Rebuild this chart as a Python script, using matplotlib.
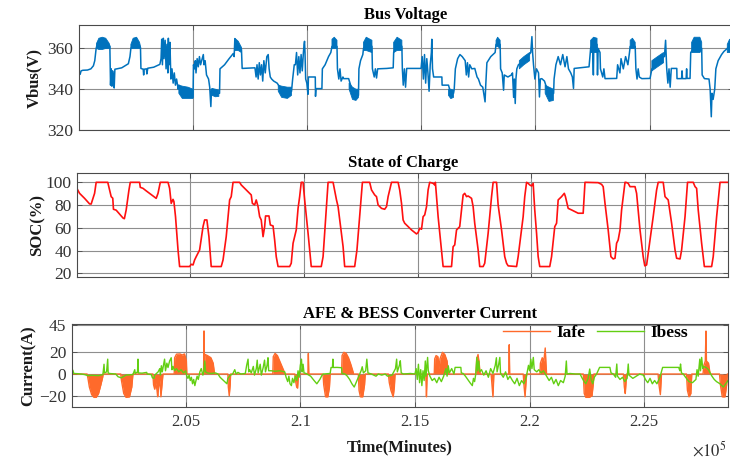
import numpy as np
import matplotlib
matplotlib.use("Agg")
import matplotlib.pyplot as plt
from matplotlib.ticker import FixedLocator, FuncFormatter

# ---------------------------------------------------------------------------
# Data (time in thousands of minutes)
# ---------------------------------------------------------------------------
vbus_pts = [
    (200.04, 348.5), (200.08, 347.3), (200.12, 349.0), (200.20, 349.3), (200.40, 349.4),
    (200.55, 350.0), (200.66, 351.5), (200.72, 354.0), (200.78, 360.0), (200.85, 363.0),
    (201.00, 364.0), (201.20, 363.5), (201.38, 361.0), (201.41, 342.0), (201.44, 350.0),
    (201.47, 341.5), (201.50, 349.0), (201.54, 346.0), (201.57, 340.6), (201.60, 349.8),
    (201.90, 350.5), (202.19, 352.5), (202.26, 356.0), (202.30, 360.0), (202.50, 364.0),
    (202.72, 360.5), (202.74, 350.2), (202.84, 349.8), (202.86, 347.0), (202.88, 349.8),
    (202.98, 350.0), (203.00, 347.5), (203.04, 350.3), (203.30, 350.8), (203.57, 352.2),
    (203.62, 355.0), (203.65, 364.5), (203.68, 352.0), (203.72, 365.0), (203.75, 355.0),
    (203.80, 364.0), (203.84, 350.0), (203.88, 362.0), (203.92, 348.0), (203.94, 365.0),
    (203.97, 352.0), (204.01, 363.0), (204.05, 345.0), (204.10, 350.0), (204.15, 343.0),
    (204.20, 348.0), (204.25, 342.0), (204.30, 345.0), (204.37, 340.0), (204.40, 342.0),
    (204.60, 338.0), (204.90, 338.0), (205.02, 336.0), (205.04, 352.0), (205.08, 350.0),
    (205.12, 354.0), (205.15, 348.0), (205.20, 355.0), (205.25, 351.0), (205.30, 356.0),
    (205.35, 352.0), (205.42, 355.0), (205.47, 357.0), (205.50, 352.0), (205.55, 354.0),
    (205.61, 347.0), (205.70, 345.0), (205.75, 341.0), (205.80, 331.5), (205.83, 340.0),
    (206.00, 338.0), (206.18, 338.0), (206.20, 350.0), (206.40, 352.0), (206.60, 355.0),
    (206.78, 357.5), (206.82, 356.0), (206.85, 364.8), (206.95, 362.0), (207.05, 361.0),
    (207.14, 359.5), (207.17, 350.2), (207.73, 350.5), (207.78, 346.0), (207.82, 352.0),
    (207.87, 345.0), (207.92, 353.0), (207.97, 347.0), (208.02, 352.0), (208.07, 344.0),
    (208.12, 354.0), (208.18, 348.0), (208.25, 356.0), (208.31, 357.0), (208.35, 350.0),
    (208.40, 346.0), (208.46, 345.0), (208.55, 344.0), (208.70, 343.0), (209.00, 338.0),
    (209.33, 339.0), (209.38, 345.0), (209.45, 352.0), (209.50, 352.0), (209.55, 358.0),
    (209.60, 347.0), (209.65, 356.0), (209.70, 348.0), (209.75, 357.0), (209.80, 349.0),
    (209.85, 358.0), (209.88, 362.0), (209.90, 363.5), (209.92, 358.0), (209.95, 345.0),
    (210.00, 343.0), (210.05, 337.5), (210.07, 346.0), (210.37, 346.0), (210.38, 336.5),
    (210.40, 340.3), (210.66, 340.3), (210.68, 350.0), (210.80, 352.0), (210.95, 356.0),
    (211.05, 358.0), (211.10, 361.0), (211.32, 361.0), (211.34, 350.0), (211.40, 345.0),
    (211.45, 350.0), (211.50, 344.0), (211.58, 346.0), (211.61, 345.2), (211.83, 345.2),
    (212.05, 337.0), (212.26, 337.0), (212.28, 350.0), (212.35, 354.0), (212.45, 357.0),
    (212.48, 360.0), (212.65, 363.0), (212.85, 361.0), (212.87, 350.0), (212.95, 346.0),
    (213.00, 350.0), (213.05, 345.5), (213.10, 350.0), (213.50, 350.2), (213.78, 350.5),
    (213.80, 358.0), (214.00, 363.0), (214.16, 361.0), (214.18, 350.0), (214.22, 342.0),
    (214.27, 350.0), (214.32, 341.0), (214.37, 350.2), (215.00, 350.2), (215.05, 356.0),
    (215.10, 345.0), (215.15, 357.0), (215.20, 343.0), (215.25, 355.0), (215.30, 348.0),
    (215.35, 339.0), (215.40, 352.0), (215.45, 358.0), (215.47, 364.5), (215.50, 350.0),
    (215.55, 346.0), (215.91, 346.0), (215.92, 342.0), (216.20, 342.0), (216.30, 338.0),
    (216.42, 338.0), (216.45, 340.0), (216.50, 350.0), (216.60, 355.0), (216.70, 357.0),
    (216.80, 356.0), (216.93, 354.0), (216.98, 347.0), (217.03, 353.0), (217.08, 346.0),
    (217.13, 352.0), (217.22, 350.0), (217.35, 350.2), (217.45, 346.0), (217.51, 345.0),
    (217.60, 342.0), (217.70, 341.0), (217.80, 333.8), (217.83, 342.0), (217.88, 353.0),
    (218.05, 356.0), (218.24, 358.0), (218.28, 362.0), (218.46, 362.0), (218.48, 350.0),
    (218.55, 348.0), (218.61, 339.5), (218.64, 347.0), (218.80, 346.0), (218.95, 347.0),
    (219.00, 348.0), (219.05, 336.0), (219.08, 345.0), (219.12, 333.0), (219.15, 345.0),
    (219.19, 350.0), (219.26, 352.0), (219.50, 354.0), (219.77, 357.6), (219.80, 358.0),
    (219.85, 365.8), (219.88, 358.0), (219.92, 352.0), (219.98, 345.0), (220.05, 350.0),
    (220.14, 348.0), (220.18, 336.2), (220.22, 345.0), (220.28, 345.2), (220.40, 344.0),
    (220.60, 337.0), (220.80, 338.0), (220.82, 345.0), (220.90, 352.0), (221.00, 356.0),
    (221.10, 352.0), (221.20, 357.0), (221.30, 351.0), (221.38, 356.0), (221.45, 350.0),
    (221.55, 348.0), (221.62, 346.0), (221.67, 340.4), (221.70, 350.2), (222.35, 351.0),
    (222.42, 360.0), (222.50, 362.0), (222.54, 347.0), (222.56, 362.0), (222.70, 362.0),
    (222.72, 347.0), (222.75, 360.0), (222.83, 358.0), (222.85, 350.0), (222.95, 346.0),
    (223.00, 350.0), (223.05, 345.2), (223.56, 345.3), (223.60, 352.0), (223.70, 348.0),
    (223.75, 355.0), (223.85, 350.0), (223.95, 356.0), (224.05, 352.0), (224.12, 358.0),
    (224.15, 361.0), (224.37, 361.0), (224.40, 350.0), (224.45, 345.0), (224.50, 350.0),
    (224.55, 346.0), (224.66, 345.2), (225.02, 345.3), (225.10, 350.0), (225.35, 353.0),
    (225.61, 356.0), (225.65, 356.0), (225.70, 364.0), (225.75, 350.0), (225.80, 343.0),
    (225.85, 350.0), (225.90, 341.0), (225.95, 350.2), (226.19, 350.2), (226.20, 345.2),
    (226.40, 345.2), (226.42, 349.0), (226.44, 345.2), (226.60, 345.2), (226.62, 350.0),
    (226.64, 345.3), (226.77, 345.3), (226.80, 358.0), (227.05, 362.0), (227.28, 360.0),
    (227.30, 347.0), (227.40, 345.2), (227.60, 345.0), (227.65, 340.0), (227.70, 326.5),
    (227.73, 338.0), (227.78, 335.0), (227.85, 340.0), (227.90, 350.0), (228.00, 354.0),
    (228.15, 357.0), (228.25, 358.5), (228.40, 360.0), (228.55, 362.0), (228.65, 361.0),
]

# envelopes of the densely oscillating stretches: (time, low, high); NaN rows split them
vbus_band = [
    (200.80, 360.0, 362.5), (200.90, 359.5, 365.0), (201.05, 359.5, 365.5), (201.20, 360.0, 365.0),
    (201.35, 360.0, 362.5), (201.39, 360.0, 361.0), (np.nan, np.nan, np.nan),
    (202.30, 360.0, 362.0), (202.40, 360.0, 365.0), (202.55, 360.0, 365.5), (202.68, 360.0, 363.0),
    (202.72, 360.0, 361.0), (np.nan, np.nan, np.nan),
    (204.40, 338.0, 342.0), (204.55, 335.5, 341.5), (204.80, 335.5, 341.0), (205.02, 335.5, 340.0),
    (np.nan, np.nan, np.nan),
    (205.85, 337.0, 340.4), (206.00, 336.3, 340.0), (206.15, 336.5, 339.5), (np.nan, np.nan, np.nan),
    (206.85, 359.0, 365.0), (207.00, 359.0, 363.5), (207.14, 358.0, 360.5), (np.nan, np.nan, np.nan),
    (208.75, 339.0, 342.0), (208.90, 336.0, 341.5), (209.15, 335.5, 341.0), (209.33, 337.0, 341.0),
    (np.nan, np.nan, np.nan),
    (211.10, 360.0, 364.5), (211.20, 360.0, 365.5), (211.32, 360.0, 364.0), (np.nan, np.nan, np.nan),
    (211.85, 340.0, 343.0), (212.00, 335.0, 341.0), (212.15, 334.5, 340.0), (212.26, 336.0, 340.0),
    (np.nan, np.nan, np.nan),
    (212.48, 359.0, 363.0), (212.60, 359.0, 365.5), (212.85, 358.0, 364.0), (np.nan, np.nan, np.nan),
    (213.80, 358.0, 363.0), (213.95, 359.0, 365.5), (214.16, 359.0, 364.0), (np.nan, np.nan, np.nan),
    (216.20, 337.0, 340.0), (216.30, 335.4, 340.0), (216.42, 336.0, 339.5), (np.nan, np.nan, np.nan),
    (218.28, 361.0, 364.0), (218.35, 361.0, 365.5), (218.46, 360.0, 364.0), (np.nan, np.nan, np.nan),
    (219.30, 350.0, 354.0), (219.50, 352.0, 356.0), (219.75, 354.0, 358.0), (np.nan, np.nan, np.nan),
    (220.43, 338.0, 342.0), (220.60, 334.0, 341.0), (220.79, 334.5, 340.0), (np.nan, np.nan, np.nan),
    (222.42, 358.0, 364.0), (222.55, 358.0, 365.5), (222.70, 358.0, 365.0), (np.nan, np.nan, np.nan),
    (224.15, 360.0, 364.0), (224.25, 360.0, 365.0), (224.37, 360.0, 363.0), (np.nan, np.nan, np.nan),
    (225.10, 349.0, 354.0), (225.35, 351.0, 356.0), (225.61, 353.0, 358.0), (np.nan, np.nan, np.nan),
    (226.84, 358.0, 363.0), (226.95, 358.0, 365.5), (227.20, 358.0, 365.5), (227.28, 359.0, 363.0),
    (np.nan, np.nan, np.nan),
    (228.40, 358.0, 362.0), (228.50, 358.0, 364.5), (228.65, 359.0, 364.0),
]

soc_pts = [
    (200.01, 94.7), (200.13, 90.3), (200.35, 85.9), (200.57, 81.0), (200.64, 80.9), (200.79, 90.3),
    (200.86, 100.0), (201.37, 100.0), (201.52, 87.4), (201.59, 86.0), (201.62, 76.3), (201.74, 75.5),
    (202.04, 68.6), (202.10, 68.0), (202.18, 75.7), (202.30, 93.0), (202.36, 100.0), (202.77, 100.0),
    (202.80, 95.6), (202.92, 94.7), (203.06, 92.5), (203.50, 85.9), (203.58, 90.3), (203.68, 100.0),
    (204.02, 100.0), (204.09, 94.7), (204.16, 81.5), (204.24, 85.0), (204.28, 83.0), (204.35, 69.8),
    (204.46, 40.5), (204.53, 25.9), (204.97, 25.9), (205.04, 27.9), (205.12, 27.3), (205.19, 31.7),
    (205.26, 34.6), (205.41, 40.5), (205.56, 61.0), (205.63, 66.9), (205.73, 66.9), (205.82, 52.2),
    (205.92, 25.9), (206.36, 25.9), (206.44, 31.7), (206.58, 52.2), (206.73, 84.5), (206.80, 87.4),
    (206.88, 100.0), (207.17, 100.0), (207.24, 97.7), (207.46, 93.3), (207.68, 88.9), (207.73, 81.5),
    (207.83, 80.1), (207.90, 84.5), (207.98, 78.6), (208.05, 69.8), (208.12, 66.9), (208.20, 52.2),
    (208.27, 61.0), (208.31, 70.4), (208.46, 70.4), (208.52, 62.5), (208.64, 61.6), (208.71, 49.3),
    (208.78, 34.6), (208.86, 25.9), (209.37, 25.9), (209.44, 28.8), (209.52, 46.4), (209.59, 52.2),
    (209.66, 58.1), (209.74, 77.1), (209.81, 87.4), (209.88, 100.0), (209.96, 100.0), (210.03, 84.5),
    (210.18, 55.2), (210.32, 25.9), (210.76, 25.9), (210.84, 34.6), (210.96, 69.8), (211.06, 100.0),
    (211.28, 100.0), (211.43, 84.5), (211.50, 78.6), (211.72, 43.4), (211.79, 25.9), (212.23, 25.9),
    (212.33, 40.5), (212.45, 69.8), (212.57, 100.0), (212.89, 100.0), (212.97, 93.3), (213.11, 88.9),
    (213.19, 87.4), (213.26, 80.1), (213.41, 77.1), (213.55, 76.3), (213.63, 78.6), (213.70, 87.4),
    (213.85, 100.0), (214.14, 100.0), (214.21, 93.3), (214.29, 81.5), (214.36, 66.9), (214.43, 64.0),
    (214.73, 58.1), (214.95, 54.6), (215.02, 55.8), (215.09, 59.6), (215.17, 58.7), (215.24, 69.8),
    (215.31, 71.3), (215.39, 78.6), (215.46, 93.3), (215.53, 100.0), (215.68, 99.1), (215.75, 97.7),
    (215.78, 100.0), (215.83, 87.4), (215.90, 69.8), (216.05, 40.5), (216.12, 25.9), (216.49, 25.9),
    (216.56, 43.4), (216.63, 44.9), (216.71, 58.1), (216.85, 61.0), (217.00, 88.9), (217.07, 90.3),
    (217.15, 87.4), (217.22, 88.0), (217.37, 85.9), (217.44, 78.6), (217.51, 64.0), (217.66, 40.5),
    (217.73, 25.9), (217.88, 25.9), (217.95, 28.8), (218.10, 55.2), (218.25, 87.4), (218.32, 100.0),
    (218.47, 100.0), (218.54, 80.1), (218.69, 58.1), (218.83, 34.6), (218.91, 28.8), (218.98, 26.5),
    (219.35, 25.9), (219.42, 34.6), (219.57, 58.1), (219.64, 69.8), (219.71, 87.4), (219.79, 100.0),
    (219.86, 99.1), (219.93, 97.7), (220.01, 96.8), (220.08, 99.1), (220.15, 75.7), (220.23, 55.2),
    (220.30, 34.6), (220.37, 25.9), (220.81, 25.9), (220.89, 34.6), (221.03, 61.0), (221.11, 64.0),
    (221.18, 84.5), (221.33, 87.4), (221.45, 90.3), (221.50, 87.4), (221.62, 77.1), (221.77, 75.7),
    (222.06, 72.8), (222.28, 72.8), (222.36, 100.0), (222.94, 99.7), (223.09, 98.2), (223.16, 96.2),
    (223.24, 81.5), (223.38, 58.1), (223.50, 34.6), (223.60, 32.6), (223.68, 33.2), (223.75, 46.4),
    (223.82, 49.3), (223.90, 58.1), (223.97, 75.7), (224.12, 100.0), (224.16, 100.0), (224.26, 99.1),
    (224.34, 96.2), (224.56, 96.2), (224.63, 90.3), (224.78, 58.1), (224.92, 34.6), (224.99, 26.5),
    (225.07, 27.3), (225.22, 49.3), (225.36, 69.8), (225.51, 93.3), (225.58, 100.0), (225.80, 100.0),
    (225.88, 87.4), (225.95, 85.9), (226.02, 84.5), (226.17, 64.0), (226.32, 40.5), (226.39, 33.2),
    (226.54, 32.6), (226.61, 40.5), (226.76, 69.8), (226.87, 100.0), (227.12, 100.0), (227.20, 96.2),
    (227.27, 94.7), (227.34, 75.7), (227.49, 46.4), (227.61, 25.9), (227.93, 25.9), (228.00, 34.6),
    (228.15, 69.8), (228.30, 100.0), (228.66, 100.0),
]

iafe_pts = [
    (200.03, 0), (200.70, 0), (200.74, -4), (200.80, -12), (200.90, -19), (201.00, -21.5),
    (201.10, -21.5), (201.20, -18), (201.30, -10), (201.38, -3), (201.40, 0), (202.17, 0),
    (202.20, -6), (202.30, -18), (202.40, -21.5), (202.55, -21), (202.65, -12), (202.70, 0),
    (203.57, 0), (203.60, -10), (203.65, -14), (203.70, -8), (203.75, -15), (203.78, -21),
    (203.82, -12), (203.88, -5), (203.92, -21), (203.96, -12), (204.01, 0), (204.50, 0),
    (204.52, 15), (204.60, 18.3), (204.75, 18.5), (204.85, 17.5), (204.95, 18.5), (205.03, 12),
    (205.05, 0), (205.78, 0), (205.80, 39.7), (205.82, 10), (205.85, 18), (205.95, 17),
    (206.10, 15), (206.20, 10), (206.26, 0), (206.84, 0), (206.86, -12), (206.90, -20),
    (206.94, -10), (206.96, 0), (208.80, 0), (208.82, 16), (208.90, 19), (209.00, 17),
    (209.10, 12), (209.20, 7), (209.30, 2), (209.32, 0), (209.76, 0), (209.78, -5),
    (209.84, -12), (209.88, -13), (209.92, 0), (210.33, 0), (210.35, 19), (210.37, 0),
    (210.99, 0), (211.02, -10), (211.10, -21), (211.20, -21), (211.27, -12), (211.30, 0),
    (211.80, 0), (211.82, 17), (211.90, 20), (212.00, 19), (212.10, 15), (212.20, 9),
    (212.30, 2), (212.32, 0), (212.53, 0), (212.56, -15), (212.62, -21), (212.72, -21),
    (212.80, -10), (212.83, 0), (213.84, 0), (213.88, -8), (213.95, -15), (214.05, -21),
    (214.10, -12), (214.13, 0), (215.47, 0), (215.50, -21), (215.53, 0), (215.84, 0),
    (215.86, 14), (215.92, 17), (216.00, 16), (216.05, 5), (216.09, 14), (216.20, 20),
    (216.30, 18), (216.40, 12), (216.45, 0), (217.66, 0), (217.69, 14), (217.75, 18),
    (217.80, 10), (217.84, 0), (218.32, 0), (218.36, -10), (218.40, -21), (218.44, 0),
    (219.09, 0), (219.11, 27), (219.13, 0), (219.72, 0), (219.76, -12), (219.80, -21),
    (219.84, -8), (219.87, 0), (220.45, 0), (220.47, 10), (220.55, 15), (220.62, 12),
    (220.68, 24), (220.71, 10), (220.74, 0), (222.34, 0), (222.38, -18), (222.45, -21.5),
    (222.60, -21.5), (222.72, -20), (222.78, -8), (222.80, 0), (224.09, 0), (224.13, -12),
    (224.17, -18), (224.21, -5), (224.23, 0), (225.60, 0), (225.64, -10), (225.70, -19),
    (225.75, 0), (226.84, 0), (226.88, -15), (226.95, -21), (227.03, -18), (227.07, 0),
    (227.56, 0), (227.60, 8), (227.66, 12), (227.69, 39.6), (227.71, 12), (227.80, 10),
    (227.87, 0), (228.28, 0), (228.32, -10), (228.40, -21), (228.52, -21), (228.59, -10),
    (228.62, 0), (228.65, 0),
]

ibess_pts = [
    (200.03, 3.5), (200.08, 3.5), (200.12, 0.5), (200.30, 0.3), (200.45, 0), (200.59, -0.5),
    (200.74, -1.5), (200.90, -1.2), (201.20, -1.5), (201.39, -0.5), (201.42, 5), (201.44, 9),
    (201.46, 1), (201.55, 2), (201.60, 13.7), (201.62, 1), (201.68, 0.5), (201.95, 0),
    (202.05, -2.5), (202.19, -3.5), (202.40, -1), (202.70, -0.5), (202.78, 4), (202.80, 0.5),
    (202.90, 2), (202.92, 13.7), (202.94, 1), (203.10, 0.8), (203.30, 1.5), (203.32, 0),
    (203.50, -0.5), (203.55, -3.5), (203.62, -4), (203.65, -1), (203.80, 2), (203.87, 5),
    (203.90, -1), (203.94, 7.6), (203.98, 2), (204.05, 10), (204.08, 13.7), (204.12, 3),
    (204.18, 10), (204.23, 6), (204.30, 12), (204.37, 15), (204.40, 4), (204.45, 7),
    (204.52, 3), (204.60, 5), (204.70, 2), (204.80, 4), (204.90, 1), (205.00, 3),
    (205.05, -2), (205.10, -4), (205.15, -1), (205.20, -6), (205.25, -3), (205.30, -9),
    (205.35, -5), (205.40, -10.7), (205.45, -6), (205.50, -2), (205.55, -5), (205.62, 2),
    (205.68, 5), (205.75, -1), (205.80, 3), (205.83, 12), (205.87, 2), (205.95, 1),
    (206.10, 0.5), (206.30, 1), (206.41, 0), (206.50, -3), (206.60, -5), (206.70, -7),
    (206.80, -9), (206.84, -4), (206.95, -1), (207.05, 0), (207.14, 4), (207.20, 0),
    (207.28, 1.5), (207.40, 0), (207.60, 0.5), (207.66, 8), (207.72, 13.7), (207.75, 2),
    (207.79, 4), (207.86, 1), (207.95, 7), (208.00, -1), (208.08, 5), (208.12, 12.8),
    (208.16, 1), (208.25, 9), (208.30, -1), (208.38, 6), (208.44, 12.8), (208.48, 2),
    (208.55, 8), (208.59, 15), (208.62, 3), (208.73, 3), (208.90, 2.5), (209.10, 3),
    (209.32, 2), (209.38, -3), (209.45, -7), (209.50, -2), (209.55, -9), (209.61, -10.7),
    (209.66, -4), (209.72, -8), (209.78, -2), (209.85, -6), (209.90, 3), (209.95, -3),
    (210.00, 8), (210.05, 13.7), (210.08, 2), (210.12, 9), (210.16, 1), (210.25, 0.5),
    (210.45, -2), (210.60, -6), (210.72, -9), (210.85, -5), (210.95, -1), (211.00, 0),
    (211.30, 0.5), (211.34, 6), (211.40, 6), (211.42, 13.7), (211.44, 6), (211.60, 6.1),
    (211.80, 5.8), (211.82, 0.5), (211.95, 0), (212.05, -2), (212.15, -5), (212.25, -9),
    (212.35, -12), (212.45, -7), (212.55, -2), (212.65, 3), (212.70, 6.7), (212.75, 1),
    (212.85, 3), (212.90, 13.7), (212.95, 1), (213.10, 0), (213.30, -2), (213.40, 0),
    (213.55, -1), (213.70, 0), (213.80, -2), (214.00, -1), (214.15, 5), (214.20, 13.7),
    (214.23, 2), (214.32, 8), (214.36, 12.2), (214.40, 1), (214.50, 0), (214.80, 0.5),
    (215.00, 0), (215.05, 5), (215.10, -5), (215.15, 9), (215.20, -8), (215.25, 4),
    (215.30, -10.7), (215.35, 3), (215.40, -6), (215.45, 12), (215.48, -2), (215.55, 15.3),
    (215.58, 3), (215.65, -2), (215.75, -6), (215.85, -4), (215.95, -8), (216.05, -3),
    (216.15, -7), (216.25, -2), (216.35, 5), (216.40, -2), (216.45, 7.6), (216.50, 1),
    (216.60, 5), (216.70, 0), (216.75, 6.1), (217.00, 6.1), (217.02, 1), (217.10, 0.5),
    (217.20, -2), (217.30, -5), (217.40, -8), (217.50, -10.7), (217.55, -4), (217.60, -7),
    (217.65, 0), (217.70, 15.3), (217.73, 3), (217.78, 12), (217.82, 2), (217.90, 4),
    (218.00, -1), (218.10, 3), (218.20, -3), (218.30, 5), (218.40, 0.5), (218.50, 8),
    (218.55, 15), (218.58, 2), (218.65, 9), (218.70, 15.3), (218.73, 1), (218.85, -3),
    (218.95, 2), (219.05, -5), (219.14, -2), (219.25, -6), (219.35, -9), (219.45, -4),
    (219.55, -10.7), (219.65, -6), (219.75, -9), (219.85, -3), (219.95, 8), (220.00, 3),
    (220.05, 13.7), (220.10, 5), (220.16, 15.3), (220.20, 4), (220.31, 2), (220.40, 4),
    (220.50, 1), (220.60, 3), (220.74, -2), (220.85, -6), (220.95, -3), (221.05, -9),
    (221.15, -5), (221.25, -10.7), (221.35, -6), (221.47, -8), (221.55, -2), (221.60, 12),
    (221.63, 0), (221.76, 0.5), (222.00, 0), (222.20, 0), (222.27, -3), (222.35, -6),
    (222.45, -9), (222.55, -4), (222.62, 4.6), (222.68, -5), (222.75, -9), (222.82, -3),
    (222.92, 0), (223.05, 6.1), (223.50, 6.1), (223.55, 1), (223.65, 0), (223.75, -3),
    (223.80, 9.2), (223.83, -2), (223.94, -5), (224.05, -3), (224.15, -7), (224.25, -4),
    (224.30, 9.2), (224.33, -1), (224.50, -4), (224.65, -2), (224.80, 0), (224.96, -1),
    (225.05, -5), (225.15, -8), (225.25, -4), (225.35, -9), (225.45, -6), (225.55, -9),
    (225.68, -3), (225.80, 6.1), (226.50, 6.1), (226.55, 3), (226.58, 9.2), (226.62, 1),
    (226.70, 0), (226.80, -3), (226.95, -7), (227.10, -8), (227.25, -5), (227.30, 4),
    (227.35, -2), (227.42, 13.7), (227.45, 3), (227.50, 15.3), (227.55, 5), (227.57, 7),
    (227.70, 6), (227.80, 4), (227.87, 1), (227.95, -2), (228.05, -5), (228.15, -7),
    (228.30, -9), (228.45, -12), (228.55, -9), (228.65, -6),
]

x_ticks = [205000, 210000, 215000, 220000, 225000]
vbus_ticks = [320, 340, 360]
soc_ticks = [20, 40, 60, 80, 100]
cur_ticks = [-20, 0, 20, 45]

# ---------------------------------------------------------------------------
vbus_t, vbus_v = np.array(vbus_pts).T
band_t, band_lo, band_hi = np.array(vbus_band).T
soc_t, soc_v = np.array(soc_pts).T
iafe_t, iafe_v = np.array(iafe_pts).T
ibess_t, ibess_v = np.array(ibess_pts).T

plt.rcParams['font.family'] = ['Liberation Serif', 'DejaVu Serif']
plt.rcParams['mathtext.fontset'] = 'stix'

W, H = 730, 459
fig = plt.figure(figsize=(W / 100, H / 100), dpi=100)


def box(left, top, right, bottom):
    return [left / W, 1 - bottom / H, (right - left) / W, (bottom - top) / H]


ax1 = fig.add_axes(box(79, 25, 733, 130))
ax2 = fig.add_axes(box(77.3, 173, 728, 277))
ax3 = fig.add_axes(box(71.7, 324, 728, 407))

BLUE = '#0072BD'
RED = '#FF1010'
ORANGE = '#FF6A2B'
GREEN = '#62CF12'
GRID = '#8e8e8e'
SPINE = '#4a4a4a'
TICKC = '#333333'

for ax in (ax1, ax2, ax3):
    ax.set_xlim(200030, 228650)
    ax.xaxis.set_major_locator(FixedLocator(x_ticks))
    ax.grid(True, color=GRID, lw=0.8)
    ax.set_axisbelow(True)
    ax.tick_params(direction='in', length=3.5, width=0.6, top=True, right=True,
                   labelsize=12.5, color=SPINE, labelcolor=TICKC, pad=4)
    for sp in ax.spines.values():
        sp.set_color(SPINE)
        sp.set_linewidth(0.8)

ax1.tick_params(labelbottom=False)
ax2.tick_params(labelbottom=False)
ax3.tick_params(axis='x', labelsize=12, pad=5)
ax3.xaxis.set_major_formatter(FuncFormatter(lambda v, p: f'{v / 1e5:g}'))

# Bus voltage
ax1.fill_between(band_t * 1e3, band_lo, band_hi, color=BLUE, lw=0.6)
ax1.plot(vbus_t * 1e3, vbus_v, color=BLUE, lw=1.1)
ax1.set_ylim(320, 371.5)
ax1.yaxis.set_major_locator(FixedLocator(vbus_ticks))
ax1.set_title('Bus Voltage', fontsize=12, fontweight='bold', pad=4)

# State of charge
ax2.plot(soc_t * 1e3, soc_v, color=RED, lw=1.2)
ax2.set_ylim(16.7, 108.2)
ax2.yaxis.set_major_locator(FixedLocator(soc_ticks))
ax2.set_title('State of Charge', fontsize=12, fontweight='bold', pad=4)

# Converter currents
ax3.fill_between(iafe_t * 1e3, 0, iafe_v, color=ORANGE, lw=0)
ax3.plot(iafe_t * 1e3, iafe_v, color=ORANGE, lw=1.0, label='Iafe')
ax3.plot(ibess_t * 1e3, ibess_v, color=GREEN, lw=1.0, label='Ibess')
ax3.set_ylim(-30.4, 46.1)
ax3.yaxis.set_major_locator(FixedLocator(cur_ticks))
ax3.set_title('AFE & BESS Converter Current', fontsize=12, fontweight='bold',
              pad=4, x=0.531)
ax3.legend(loc='center', bbox_to_anchor=(0.798, 0.892), ncol=2, frameon=False,
           prop={'weight': 'bold', 'size': 12.5}, handlelength=2.7,
           handletextpad=0.35, columnspacing=0.7, borderpad=0, borderaxespad=0)

# axis labels
lab = dict(fontsize=12, fontweight='bold', color='#1a1a1a')
fig.text(34.7 / W, 1 - 78 / H, 'Vbus(V)', rotation=90, ha='center', va='center', **lab)
fig.text(37 / W, 1 - 225 / H, 'SOC(%)', rotation=90, ha='center', va='center', **lab)
fig.text(29 / W, 1 - 366 / H, 'Current(A)', rotation=90, ha='center', va='center', **lab)
fig.text(400 / W, 1 - 451.5 / H, 'Time(Minutes)', ha='center', va='baseline', **lab)
fig.text(727 / W, 1 - 456 / H, r'$\times 10^{5}$', ha='right', va='baseline',
         fontsize=12, color=TICKC)

fig.savefig('out.png', dpi=100)
